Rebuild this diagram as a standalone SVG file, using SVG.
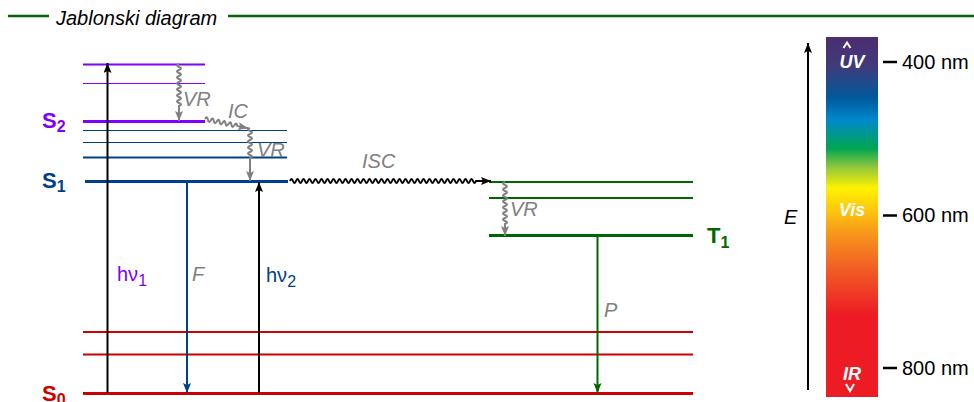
<svg xmlns="http://www.w3.org/2000/svg" width="974" height="402" viewBox="0 0 974 402">
<style>
text{font-family:"Liberation Sans",Arial,sans-serif}
.lbl{font-weight:bold;font-size:22px}
.sub{font-size:16px}
.gi{fill:#808080;font-style:italic;font-size:20px}
.wave{fill:none;stroke:#808080;stroke-width:2}
.nm{font-size:20px;fill:#000}
.wl{fill:#fff;font-weight:bold;font-style:italic;font-size:18px;text-anchor:middle}
</style>
<defs>
<marker id="ak" markerUnits="userSpaceOnUse" markerWidth="12" markerHeight="10" refX="10" refY="4" orient="auto"><path d="M0,0 L10,4 L0,8 L2,4 z" fill="#000"/></marker>
<marker id="ag" markerUnits="userSpaceOnUse" markerWidth="12" markerHeight="10" refX="10" refY="4" orient="auto"><path d="M0,0 L10,4 L0,8 L2,4 z" fill="#808080"/></marker>
<marker id="ab" markerUnits="userSpaceOnUse" markerWidth="12" markerHeight="10" refX="10" refY="4" orient="auto"><path d="M0,0 L10,4 L0,8 L2,4 z" fill="#00408A"/></marker>
<marker id="agr" markerUnits="userSpaceOnUse" markerWidth="12" markerHeight="10" refX="10" refY="4" orient="auto"><path d="M0,0 L10,4 L0,8 L2,4 z" fill="#006600"/></marker>
<linearGradient id="spec" x1="0" y1="0" x2="0" y2="1">
<stop offset="0" stop-color="#4B2E6F"/>
<stop offset="0.08" stop-color="#403A7C"/>
<stop offset="0.17" stop-color="#005A9C"/>
<stop offset="0.23" stop-color="#0088CC"/>
<stop offset="0.31" stop-color="#00A651"/>
<stop offset="0.36" stop-color="#8DC63F"/>
<stop offset="0.42" stop-color="#FFF200"/>
<stop offset="0.49" stop-color="#FDC010"/>
<stop offset="0.55" stop-color="#F7941D"/>
<stop offset="0.65" stop-color="#F15A24"/>
<stop offset="0.77" stop-color="#ED1C24"/>
<stop offset="1" stop-color="#ED1C24"/>
</linearGradient>
</defs>

<g id="title">
<line x1="8" y1="16" x2="49" y2="16" stroke="#006600" stroke-width="2.5"/>
<line x1="228" y1="16" x2="974" y2="16" stroke="#006600" stroke-width="2.5"/>
<text x="56" y="25" font-size="20" font-style="italic">Jablonski diagram</text>
</g>

<g id="S2">
<line x1="83" y1="64.5" x2="205" y2="64.5" stroke="#8000FF" stroke-width="2"/>
<line x1="83" y1="83.5" x2="205" y2="83.5" stroke="#8000FF" stroke-width="1.2"/>
<line x1="83" y1="121.5" x2="205" y2="121.5" stroke="#8000FF" stroke-width="3"/>
<text x="42" y="128" class="lbl" fill="#8000FF">S<tspan class="sub" dy="4">2</tspan></text>
</g>

<g id="S1">
<line x1="83" y1="130.5" x2="287" y2="130.5" stroke="#00408A" stroke-width="1.2"/>
<line x1="83" y1="142.5" x2="287" y2="142.5" stroke="#00408A" stroke-width="1.2"/>
<line x1="83" y1="157.5" x2="287" y2="157.5" stroke="#00408A" stroke-width="2"/>
<line x1="85" y1="181.5" x2="288" y2="181.5" stroke="#00408A" stroke-width="3"/>
<text x="42" y="188" class="lbl" fill="#00408A">S<tspan class="sub" dy="4">1</tspan></text>
</g>

<g id="S0">
<line x1="83" y1="332" x2="693" y2="332" stroke="#CC0000" stroke-width="2"/>
<line x1="83" y1="354.5" x2="693" y2="354.5" stroke="#CC0000" stroke-width="2"/>
<line x1="83" y1="393.5" x2="693" y2="393.5" stroke="#CC0000" stroke-width="3"/>
<text x="42" y="401" class="lbl" fill="#CC0000">S<tspan class="sub" dy="4">0</tspan></text>
</g>

<g id="T1">
<line x1="489" y1="182" x2="693" y2="182" stroke="#006600" stroke-width="2"/>
<line x1="489" y1="198" x2="693" y2="198" stroke="#006600" stroke-width="2"/>
<line x1="489" y1="235.5" x2="693" y2="235.5" stroke="#006600" stroke-width="3"/>
<text x="707" y="243" class="lbl" fill="#006600">T<tspan class="sub" dy="5">1</tspan></text>
</g>

<g id="connectors">
<line x1="107.5" y1="393" x2="107.5" y2="63" stroke="#000" stroke-width="2" marker-end="url(#ak)"/>
<line x1="187" y1="182" x2="187" y2="393" stroke="#00408A" stroke-width="2" marker-end="url(#ab)"/>
<line x1="259" y1="393" x2="259" y2="182" stroke="#000" stroke-width="2" marker-end="url(#ak)"/>
<line x1="597.5" y1="236" x2="597.5" y2="393" stroke="#006600" stroke-width="2" marker-end="url(#agr)"/>
<path class="wave" marker-end="url(#ag)" d="M179,64 q-4,1.5 0,3 t0,3 t0,3 t0,3 t0,3 t0,3 t0,3 t0,3 t0,3 t0,3 t0,3 t0,3 t0,3 t0,3 L179,121"/>
<path class="wave" marker-end="url(#ag)" d="M250,128 q-4,1.5 0,3 t0,3 t0,3 t0,3 t0,3 t0,3 t0,3 t0,3 t0,3 t0,3 L250,181"/>
<path class="wave" marker-end="url(#ag)" d="M505,182 q-4,1.5 0,3 t0,3 t0,3 t0,3 t0,3 t0,3 t0,3 t0,3 t0,3 t0,3 t0,3 t0,3 t0,3 t0,3 L505,236"/>
<path class="wave" marker-end="url(#ag)" transform="translate(205,119) rotate(12)" d="M0,0 q1.5,-4 3,0 t3,0 t3,0 t3,0 t3,0 t3,0 t3,0 t3,0 t3,0 t3,0 t3,0 L44,0"/>
<path fill="none" stroke="#000" stroke-width="2" marker-end="url(#ak)" d="M290,181 q1.5,-4 3,0 t3,0 t3,0 t3,0 t3,0 t3,0 t3,0 t3,0 t3,0 t3,0 t3,0 t3,0 t3,0 t3,0 t3,0 t3,0 t3,0 t3,0 t3,0 t3,0 t3,0 t3,0 t3,0 t3,0 t3,0 t3,0 t3,0 t3,0 t3,0 t3,0 t3,0 t3,0 t3,0 t3,0 t3,0 t3,0 t3,0 t3,0 t3,0 t3,0 t3,0 t3,0 t3,0 t3,0 t3,0 t3,0 t3,0 t3,0 t3,0 t3,0 t3,0 t3,0 t3,0 t3,0 t3,0 t3,0 t3,0 t3,0 t3,0 t3,0 t3,0 t3,0 L491,181"/>
<line x1="808" y1="390" x2="808" y2="43" stroke="#000" stroke-width="2" marker-end="url(#ak)"/>
</g>

<g id="labels">
<text x="183" y="106" class="gi">VR</text>
<text x="228" y="118" class="gi">IC</text>
<text x="257" y="157" class="gi">VR</text>
<text x="362" y="168" class="gi">ISC</text>
<text x="510" y="216" class="gi">VR</text>
<text x="192" y="281" class="gi">F</text>
<text x="604" y="317" class="gi">P</text>
<text x="117" y="281" font-size="20" fill="#8000FF">hν<tspan font-size="16" dy="5">1</tspan></text>
<text x="266" y="282" font-size="20" fill="#00408A">hν<tspan font-size="16" dy="5">2</tspan></text>
<text x="784" y="224" font-size="20" font-style="italic">E</text>
</g>

<g id="spectrum">
<rect x="826" y="37" width="52" height="360" fill="url(#spec)"/>
<polyline points="843.5,48 847,42.5 850.5,48" fill="none" stroke="#fff" stroke-width="2"/>
<text x="852" y="68" class="wl">UV</text>
<text x="852" y="216" class="wl">Vis</text>
<text x="852" y="380" class="wl">IR</text>
<polyline points="846,384 850,391 854,384" fill="none" stroke="#fff" stroke-width="2"/>
<line x1="883" y1="62" x2="897" y2="62" stroke="#000" stroke-width="2.5"/>
<line x1="883" y1="215.5" x2="897" y2="215.5" stroke="#000" stroke-width="2.5"/>
<line x1="883" y1="368" x2="897" y2="368" stroke="#000" stroke-width="2.5"/>
<text x="902" y="69" class="nm">400 nm</text>
<text x="902" y="222" class="nm">600 nm</text>
<text x="902" y="375" class="nm">800 nm</text>
</g>
</svg>
